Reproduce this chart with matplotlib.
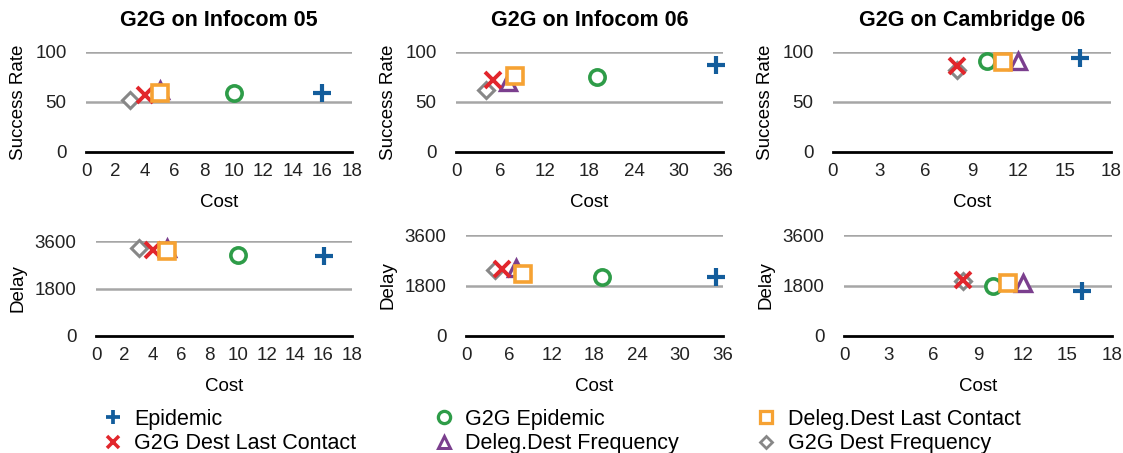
import matplotlib
matplotlib.use("Agg")
import matplotlib.pyplot as plt
from matplotlib.lines import Line2D

plt.rcParams['font.family'] = ['Liberation Sans', 'DejaVu Sans']

titles = ["G2G on Infocom 05", "G2G on Infocom 06", "G2G on Cambridge 06"]
x_ticks = [list(range(0, 19, 2)), list(range(0, 37, 6)), list(range(0, 19, 3))]

series = ["G2G Dest Frequency", "Deleg.Dest Frequency", "G2G Dest Last Contact",
          "G2G Epidemic", "Deleg.Dest Last Contact", "Epidemic"]

# cost per data set, same series order as above
cost = [
    [3, 5, 4, 10, 5, 16],
    [4, 7, 5, 19, 8, 35],
    [8, 12, 8, 10, 11, 16],
]
success = [
    [52, 62, 57, 59, 59, 59],
    [62, 70, 72, 75, 76, 87],
    [82, 91, 86, 91, 90, 94],
]
delay_cost = [
    [3, 5, 4, 10, 5, 16],
    [4, 7, 5, 19, 8, 35],
    [8, 12, 8, 10, 11, 16],
]
delay = [
    [3320, 3350, 3260, 3070, 3220, 3050],
    [2350, 2410, 2380, 2090, 2200, 2100],
    [1950, 1880, 2000, 1800, 1880, 1600],
]

styles = {
    "G2G Dest Frequency": dict(marker="D", color="#878787", ms=8, mew=2.2),
    "Deleg.Dest Frequency": dict(marker="^", color="#7b3f8e", ms=11, mew=2.4),
    "G2G Dest Last Contact": dict(marker="x", color="#e2262c", ms=11, mew=2.8),
    "G2G Epidemic": dict(marker="o", color="#2e9c48", ms=11, mew=2.6),
    "Deleg.Dest Last Contact": dict(marker="s", color="#f6a233", ms=11, mew=2.6),
    "Epidemic": dict(marker="+", color="#135d9c", ms=13, mew=3.0),
}

W, H = 1123, 453
fig = plt.figure(figsize=(W / 100, H / 100), dpi=100)

# axes boxes in pixels: left, bottom(y=0 line), width, height
top_boxes = [(86, 152, 266, 100), (456, 152, 267, 100), (833, 152, 278, 100)]
bot_boxes = [(96, 336, 256, 95), (466, 336, 257, 101), (844, 336, 268, 101)]


def make_ax(box):
    l, b, w, h = box
    return fig.add_axes([l / W, 1 - b / H, w / W, h / H])


def style_ax(ax, xt, yt):
    for s in ["top", "right", "left"]:
        ax.spines[s].set_visible(False)
    ax.spines["bottom"].set_linewidth(2.0)
    ax.spines["bottom"].set_color("black")
    ax.set_xlim(xt[0], xt[-1])
    ax.set_ylim(yt[0], yt[-1])
    ax.set_xticks(xt)
    ax.set_yticks(yt)
    ax.tick_params(length=0, labelsize=13.5, colors="#222222")
    ax.tick_params(axis="y", pad=14)
    ax.tick_params(axis="x", pad=8)
    for y in yt[1:]:
        ax.axhline(y, color="#a6a6a6", lw=1.8, zorder=0)
    ax.set_xlabel("Cost", fontsize=13.5, labelpad=10)


for i in range(3):
    ax = make_ax(top_boxes[i])
    style_ax(ax, x_ticks[i], [0, 50, 100])
    ax.set_ylabel("Success Rate", fontsize=13.5, labelpad=6)
    ax.set_title(titles[i], fontsize=15.5, fontweight="bold", pad=19)
    for j, name in enumerate(series):
        st = styles[name]
        ax.plot(cost[i][j], success[i][j], linestyle="none", marker=st["marker"],
                ms=st["ms"], mew=st["mew"], mec=st["color"], mfc="white",
                color=st["color"], clip_on=False, zorder=3)

    ax2 = make_ax(bot_boxes[i])
    style_ax(ax2, x_ticks[i], [0, 1800, 3600])
    ax2.set_ylabel("Delay", fontsize=13.5, labelpad=6)
    for j, name in enumerate(series):
        st = styles[name]
        ax2.plot(delay_cost[i][j], delay[i][j], linestyle="none", marker=st["marker"],
                 ms=st["ms"], mew=st["mew"], mec=st["color"], mfc="white",
                 color=st["color"], clip_on=False, zorder=3)

legend_order = ["Epidemic", "G2G Dest Last Contact", "G2G Epidemic",
                "Deleg.Dest Frequency", "Deleg.Dest Last Contact", "G2G Dest Frequency"]
handles = []
for name in legend_order:
    st = styles[name]
    handles.append(Line2D([], [], linestyle="none", marker=st["marker"],
                          ms=st["ms"] * 0.8, mew=st["mew"] * 0.9, mec=st["color"],
                          mfc="white", label=name))
fig.legend(handles=handles, ncol=3, loc="upper left", bbox_to_anchor=(102 / W, 1 - 409 / H),
           frameon=False, fontsize=15.5, handlelength=1.0, handletextpad=0.5,
           columnspacing=3.55, labelspacing=0.15, borderaxespad=0, borderpad=0)

fig.savefig("out.png", dpi=100)
